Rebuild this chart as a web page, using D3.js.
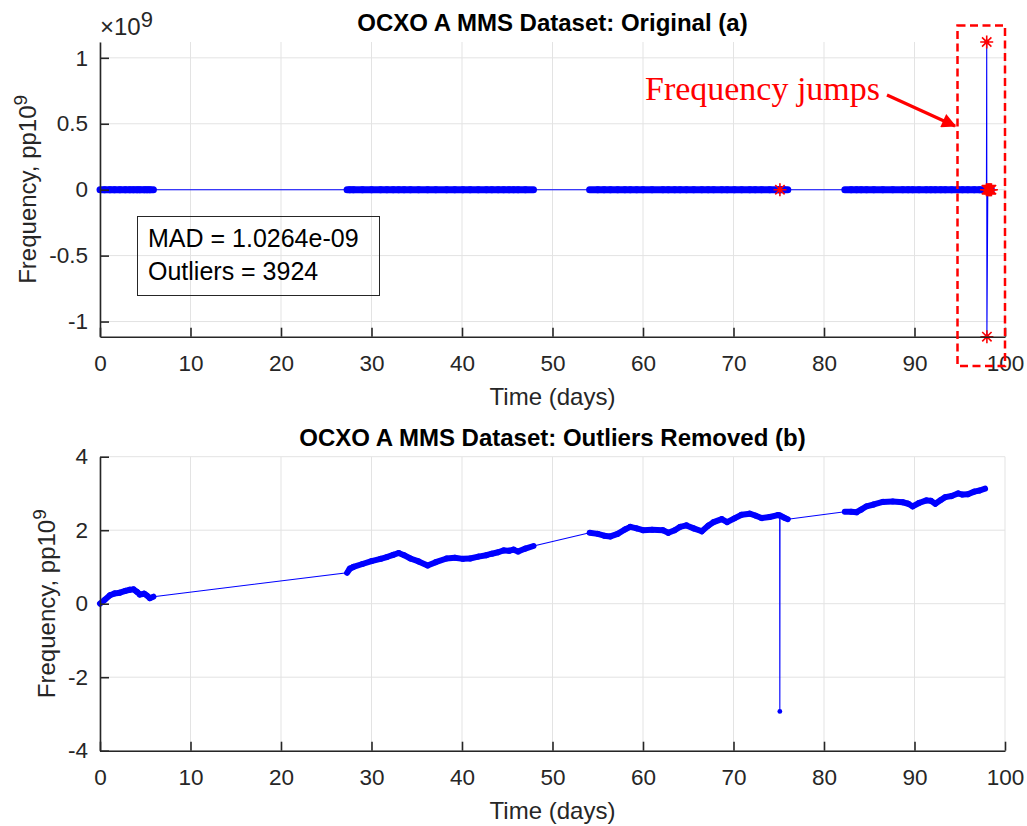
<!DOCTYPE html>
<html>
<head>
<meta charset="utf-8">
<script src="https://cdn.jsdelivr.net/npm/d3@7"></script>
<style>
  body { margin: 0; background: #fff; }
  svg { font-family: Arial, "Liberation Sans", Helvetica, sans-serif; }
</style>
</head>
<body>
<svg id="chart" width="1027" height="826"></svg>
<script>
// ---- data ----
// cleaned series (outliers removed), time in days, frequency in pp10^9
const cleanTime = [
  0, 0.5, 1.1, 1.6, 2.2, 2.8, 3.3, 3.7, 4.1, 4.4, 4.9, 5.2, 5.5, 5.9,
  27.3, 27.6, 28.0, 29.0, 30.0, 31.0, 31.7, 32.4, 33.0, 33.6, 34.3, 35.2, 36.2, 37.1,
  38.3, 39.2, 40.1, 40.9, 41.8, 42.7, 43.3, 44.0, 44.6, 45.2, 45.7, 46.2, 47.0, 47.9,
  54.1, 55.0, 55.7, 56.4, 57.2, 58.0, 58.6, 59.3, 60.0, 61.0, 62.2, 62.8, 63.5, 64.1,
  64.8, 65.6, 66.5, 67.2, 67.8, 68.7, 69.3, 70.1, 70.9, 71.8, 72.4, 73.1, 74.0, 74.9,
  75.10, 75.12, 75.14, 75.6, 76.0,
  82.3, 83.0, 83.6, 84.1, 84.7, 85.5, 86.5, 87.6, 88.7, 89.3, 89.8, 90.5, 91.3, 91.8,
  92.3, 92.9, 93.4, 94.1, 94.8, 95.3, 95.9, 96.6, 97.2, 97.8
];
const cleanFreq = [
  0, 0.10, 0.23, 0.28, 0.30, 0.35, 0.38, 0.39, 0.32, 0.25, 0.27, 0.22, 0.15, 0.19,
  0.84, 0.95, 1.00, 1.08, 1.16, 1.22, 1.27, 1.33, 1.38, 1.32, 1.23, 1.15, 1.04, 1.13,
  1.23, 1.25, 1.22, 1.23, 1.28, 1.32, 1.36, 1.40, 1.45, 1.44, 1.47, 1.42, 1.50, 1.57,
  1.93, 1.90, 1.85, 1.83, 1.90, 2.02, 2.09, 2.05, 2.00, 2.01, 2.00, 1.93, 2.00, 2.09,
  2.13, 2.05, 1.97, 2.12, 2.22, 2.30, 2.22, 2.32, 2.42, 2.45, 2.40, 2.33, 2.36, 2.41,
  2.40, -2.93, 2.40, 2.34, 2.30,
  2.50, 2.50, 2.49, 2.56, 2.65, 2.70, 2.77, 2.78, 2.76, 2.72, 2.65, 2.74, 2.81, 2.80,
  2.72, 2.82, 2.90, 2.93, 3.00, 2.97, 2.98, 3.05, 3.08, 3.13
];
// points flagged as outliers in the original record
const outlierTime = [75.13, 97.95, 97.98, 98.0, 98.1, 98.2, 98.3, 98.4, 98.5];
const outlierFreq = [2.4, 3.1, 1.12e9, -1.115e9, 3.2, 3.0, 3.3, 3.1, 3.2];

const xTicks = [0, 10, 20, 30, 40, 50, 60, 70, 80, 90, 100];
const topYTicks = [-1e9, -0.5e9, 0, 0.5e9, 1e9];
const botYTicks = [-4, -2, 0, 2, 4];

const titleTop = 'OCXO A MMS Dataset: Original (a)';
const titleBot = 'OCXO A MMS Dataset: Outliers Removed (b)';
const boxLines = ['MAD = 1.0264e-09', 'Outliers = ' + 3924];
const jumpLabel = 'Frequency jumps';

// ---- layout ----
const svg = d3.select('#chart');
const L = 100, R = 1005;
const axCol = '#262626', gridCol = '#e3e3e3', blue = '#0000ff', red = '#ff0000';

const clean = cleanTime.map((t, i) => ({ t, v: cleanFreq[i], out: false }));
const outs = outlierTime.map((t, i) => ({ t, v: outlierFreq[i], out: true }));
const original = clean.concat(outs).sort((a, b) => a.t - b.t);

const x = d3.scaleLinear().domain([0, 100]).range([L, R]);

function drawPanel(o) {
  const g = svg.append('g');
  const y = o.y;
  const [yb, yt] = y.range();

  // grid
  g.append('g').selectAll('line').data(xTicks).join('line')
    .attr('x1', d => x(d)).attr('x2', d => x(d)).attr('y1', yt).attr('y2', yb)
    .attr('stroke', gridCol).attr('stroke-width', 1);
  g.append('g').selectAll('line').data(o.yTicks).join('line')
    .attr('x1', L).attr('x2', R).attr('y1', d => y(d)).attr('y2', d => y(d))
    .attr('stroke', gridCol).attr('stroke-width', 1);

  // thin connecting line through every sample
  const line = d3.line().x(d => x(d.t)).y(d => y(d.v));
  g.append('path').datum(o.data).attr('d', line)
    .attr('fill', 'none').attr('stroke', blue).attr('stroke-width', 1.1);

  // dense sample markers appear as a thick trace within each recording block
  const pairs = [];
  for (let i = 1; i < o.data.length; i++) {
    const a = o.data[i - 1], b = o.data[i];
    if (b.t - a.t < 3 && Math.abs(y(b.v) - y(a.v)) < 30) pairs.push([a, b]);
  }
  g.append('g').selectAll('line').data(pairs).join('line')
    .attr('x1', d => x(d[0].t)).attr('y1', d => y(d[0].v))
    .attr('x2', d => x(d[1].t)).attr('y2', d => y(d[1].v))
    .attr('stroke', blue).attr('stroke-width', o.thick).attr('stroke-linecap', 'round');
  g.append('g').selectAll('circle').data(o.data).join('circle')
    .attr('cx', d => x(d.t)).attr('cy', d => y(d.v)).attr('r', 2.4).attr('fill', blue);

  // outlier stars
  if (o.stars) {
    const s = 6.5, k = s * 0.72;
    const star = `M${-s},0L${s},0M0,${-s}L0,${s}M${-k},${-k}L${k},${k}M${-k},${k}L${k},${-k}`;
    g.append('g').selectAll('path').data(o.stars).join('path')
      .attr('transform', d => `translate(${x(d.t)},${y(d.v)})`)
      .attr('d', star).attr('fill', 'none').attr('stroke', red).attr('stroke-width', 1.6);
  }

  // axes
  const ax = d3.axisBottom(x).tickValues(xTicks).tickSizeInner(-9).tickSizeOuter(0)
    .tickPadding(18).tickFormat(d => String(d));
  const gx = g.append('g').attr('transform', `translate(0,${yb})`).call(ax);
  const ay = d3.axisLeft(y).tickValues(o.yTicks).tickSizeInner(-9).tickSizeOuter(0)
    .tickPadding(12).tickFormat(o.fmt);
  const gy = g.append('g').attr('transform', `translate(${L},0)`).call(ay);
  [gx, gy].forEach(a => {
    a.attr('font-family', null).attr('font-size', null);
    a.select('.domain').attr('stroke', axCol).attr('stroke-width', 1.6);
    a.selectAll('.tick line').attr('stroke', axCol).attr('stroke-width', 1.6);
    a.selectAll('.tick text').attr('fill', axCol).attr('font-size', 22.5);
  });

  // title
  g.append('text').attr('x', (L + R) / 2).attr('y', yt - 11).attr('text-anchor', 'middle')
    .attr('font-size', 24).attr('font-weight', 'bold').attr('fill', '#000').text(o.title);

  // x label
  g.append('text').attr('x', (L + R) / 2).attr('y', yb + 68).attr('text-anchor', 'middle')
    .attr('font-size', 24).attr('fill', axCol).text('Time (days)');

  // y label with superscript
  const yl = g.append('text')
    .attr('transform', `translate(${o.ylabX},${(yt + yb) / 2}) rotate(-90)`)
    .attr('text-anchor', 'middle').attr('font-size', 24).attr('fill', axCol);
  yl.append('tspan').text('Frequency, pp10');
  yl.append('tspan').attr('dy', -9).attr('font-size', 19).text('9');
  return g;
}

const yTop = d3.scaleLinear().domain(d3.extent(original, d => d.v)).range([336.7, 42]);
const yBot = d3.scaleLinear().domain([-4, 4]).range([750.7, 456.7]);

const gTop = drawPanel({
  y: yTop, yTicks: topYTicks, data: original, stars: outs, thick: 7,
  fmt: d => String(d / 1e9), title: titleTop, ylabX: 36
});
drawPanel({
  y: yBot, yTicks: botYTicks, data: clean, stars: null, thick: 6,
  fmt: d => String(d), title: titleBot, ylabX: 55
});

// exponent label of the top panel
const ex = gTop.append('text').attr('x', 100).attr('y', 35).attr('font-size', 24).attr('fill', axCol);
ex.append('tspan').text('\u00d710');
ex.append('tspan').attr('dy', -8).attr('font-size', 22).text('9');

// MAD / outlier count box
gTop.append('rect').attr('x', 137.5).attr('y', 216.5).attr('width', 242).attr('height', 79)
  .attr('fill', 'none').attr('stroke', axCol).attr('stroke-width', 1);
gTop.selectAll('text.box').data(boxLines).join('text').attr('class', 'box')
  .attr('x', 148).attr('y', (d, i) => 247 + i * 32.5)
  .attr('font-size', 25).attr('fill', '#000').text(d => d);

// annotation: dashed box, arrow and label
svg.append('rect').attr('x', 957.5).attr('y', 25.5).attr('width', 47.5).attr('height', 340.5)
  .attr('fill', 'none').attr('stroke', red).attr('stroke-width', 2.5)
  .attr('stroke-dasharray', '8,4.5');
svg.append('defs').append('marker').attr('id', 'ah').attr('viewBox', '0 0 10 10')
  .attr('refX', 9).attr('refY', 5).attr('markerWidth', 5.5).attr('markerHeight', 4.5)
  .attr('markerUnits', 'strokeWidth').attr('orient', 'auto')
  .append('path').attr('d', 'M0,0L10,5L0,10Z').attr('fill', red);
svg.append('line').attr('x1', 887).attr('y1', 95).attr('x2', 955).attr('y2', 126)
  .attr('stroke', red).attr('stroke-width', 3.2).attr('marker-end', 'url(#ah)');
svg.append('text').attr('x', 645).attr('y', 100)
  .attr('font-family', '"Liberation Serif", "DejaVu Serif", serif')
  .attr('font-size', 33).attr('fill', red)
  .attr('textLength', 235).attr('lengthAdjust', 'spacingAndGlyphs').text(jumpLabel);
</script>
</body>
</html>
